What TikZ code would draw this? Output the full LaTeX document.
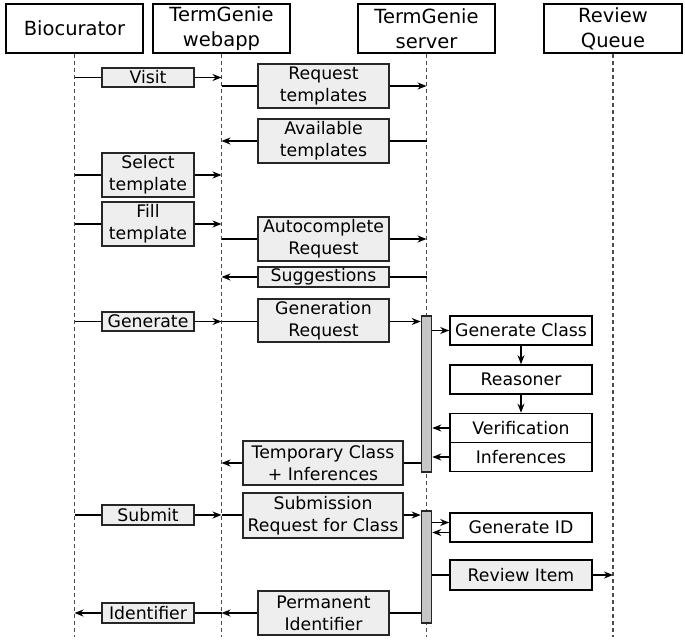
\documentclass[tikz,border=0pt]{standalone}
\usepackage{fontspec}
\setmainfont{DejaVu Sans}
\usetikzlibrary{arrows.meta,calc}
\pgfdeclarelayer{background}
\pgfsetlayers{background,main}
\begin{document}
\begin{tikzpicture}[x=1pt,y=-1pt,
  hdr/.style={draw, line width=2pt, fill=white, inner sep=0pt, align=center,
    minimum width=137pt, minimum height=49pt, font=\fontsize{19.5}{25}\selectfont},
  msg/.style={draw, line width=1.6pt, draw=black!85, fill=gray!13, inner sep=0pt, align=center,
    font=\fontsize{17.3}{22}\selectfont},
  act/.style={draw, line width=1.6pt, fill=white, inner sep=0pt, align=center,
    minimum width=142pt, minimum height=29pt, font=\fontsize{17.3}{22}\selectfont},
  bar/.style={draw, line width=1.6pt, draw=black!85, fill=gray!45, inner sep=0pt, minimum width=10pt},
  life/.style={dash pattern=on 4pt off 3pt, line width=1.1pt, draw=gray!60!black},
  con/.style={line width=1.6pt},
  arr/.style={line width=1.6pt, -{Stealth[length=9pt,width=7pt]}}]
\useasboundingbox (0,0) rectangle (685,642);
% headers
\node[hdr] (bio) at (74.5,28.5) {Biocurator};
\node[hdr] (web) at (221.5,28.5) {TermGenie\\webapp};
\node[hdr] (srv) at (426.5,28.5) {TermGenie\\server};
\node[hdr, minimum width=138pt] (rq) at (613,28.5) {Review\\Queue};
\coordinate (bioend) at (74.5,637);
\coordinate (webend) at (221.5,637);
\coordinate (srvend) at (426.5,637);
\coordinate (rqend) at (613,637);
% activation bars
\node[bar, minimum height=156pt] (bar1) at (426.5,394) {};
\node[bar, minimum height=112pt] (bar2) at (426.5,567) {};
% message boxes
\node[msg, minimum width=92pt, minimum height=19pt] (visit) at (148,77.5) {Visit};
\node[msg, minimum width=131pt, minimum height=44pt] (reqt) at (323.5,86) {Request\\templates};
\node[msg, minimum width=131pt, minimum height=44pt] (avail) at (323.5,141) {Available\\templates};
\node[msg, minimum width=92pt, minimum height=44pt] (select) at (148,175) {Select\\template};
\node[msg, minimum width=92pt, minimum height=44pt] (fill) at (148,224) {Fill\\template};
\node[msg, minimum width=131pt, minimum height=44pt] (autoc) at (323.5,239) {Autocomplete\\Request};
\node[msg, minimum width=131pt, minimum height=20pt] (sugg) at (323.5,277) {Suggestions};
\node[msg, minimum width=92pt, minimum height=19pt] (gen) at (148,321.5) {Generate};
\node[msg, minimum width=131pt, minimum height=43pt] (genreq) at (323.5,320.5) {Generation\\Request};
\node[msg, minimum width=160pt, minimum height=44pt] (tempc) at (323,463) {Temporary Class\\+ Inferences};
\node[msg, minimum width=92pt, minimum height=20pt] (submit) at (148,515) {Submit};
\node[msg, minimum width=160pt, minimum height=45pt] (subreq) at (323,515.5) {Submission\\Request for Class};
\node[msg, minimum width=131pt, minimum height=44pt] (permid) at (323.5,613) {Permanent\\Identifier};
\node[msg, minimum width=92pt, minimum height=20pt] (ident) at (148,613) {Identifier};
% server-side boxes
\node[act] (gclass) at (521,330.5) {Generate Class};
\node[act] (reason) at (521,379.5) {Reasoner};
\node[act] (verif) at (521,428) {Verification};
\node[act] (infer) at (521,457) {Inferences};
\node[act] (genid) at (521,527.5) {Generate ID};
\node[act, fill=gray!13, minimum height=30pt] (review) at (521,575) {Review Item};
\begin{pgfonlayer}{background}
  \draw[life] (bio.south) -- (bioend);
  \draw[life] (web.south) -- (webend);
  \draw[life] (srv.south) -- (srvend);
  \draw[life] (rq.south) -- (rqend);
  \draw[arr] (bio |- visit) -- (web |- visit);
  \draw[arr] (web |- reqt) -- (srv |- reqt);
  \draw[arr] (srv |- avail) -- (web |- avail);
  \draw[arr] (bio |- select) -- (web |- select);
  \draw[arr] (bio |- fill) -- (web |- fill);
  \draw[arr] (web |- autoc) -- (srv |- autoc);
  \draw[arr] (srv |- sugg) -- (web |- sugg);
  \draw[arr] (bio |- gen) -- (web |- gen);
  \draw[arr] (web |- gen) -- (bar1.west |- gen);
  \draw[arr] (bar1.west |- tempc) -- (web |- tempc);
  \draw[arr] (bio |- submit) -- (web |- submit);
  \draw[arr] (web |- submit) -- (bar2.west |- submit);
  \draw[arr] (bar2.west |- permid) -- (web |- permid);
  \draw[arr] (web |- ident) -- (bio |- ident);
  \draw[con] (bar2.east |- review) -- (review.west);
\end{pgfonlayer}
\draw[arr] (bar1.east |- gclass) -- (gclass.west);
\draw[arr] (gclass.south) -- (reason.north);
\draw[arr] (reason.south) -- (verif.north);
\draw[arr] (verif.west) -- (bar1.east |- verif);
\draw[arr] (infer.west) -- (bar1.east |- infer);
\draw[arr] ($(bar2.east |- genid)+(0,-5)$) -- ($(genid.west)+(0,-5)$);
\draw[arr] ($(genid.west)+(0,5)$) -- ($(bar2.east |- genid)+(0,5)$);
\draw[arr] (review.east) -- (rq |- review);
\end{tikzpicture}
\end{document}
